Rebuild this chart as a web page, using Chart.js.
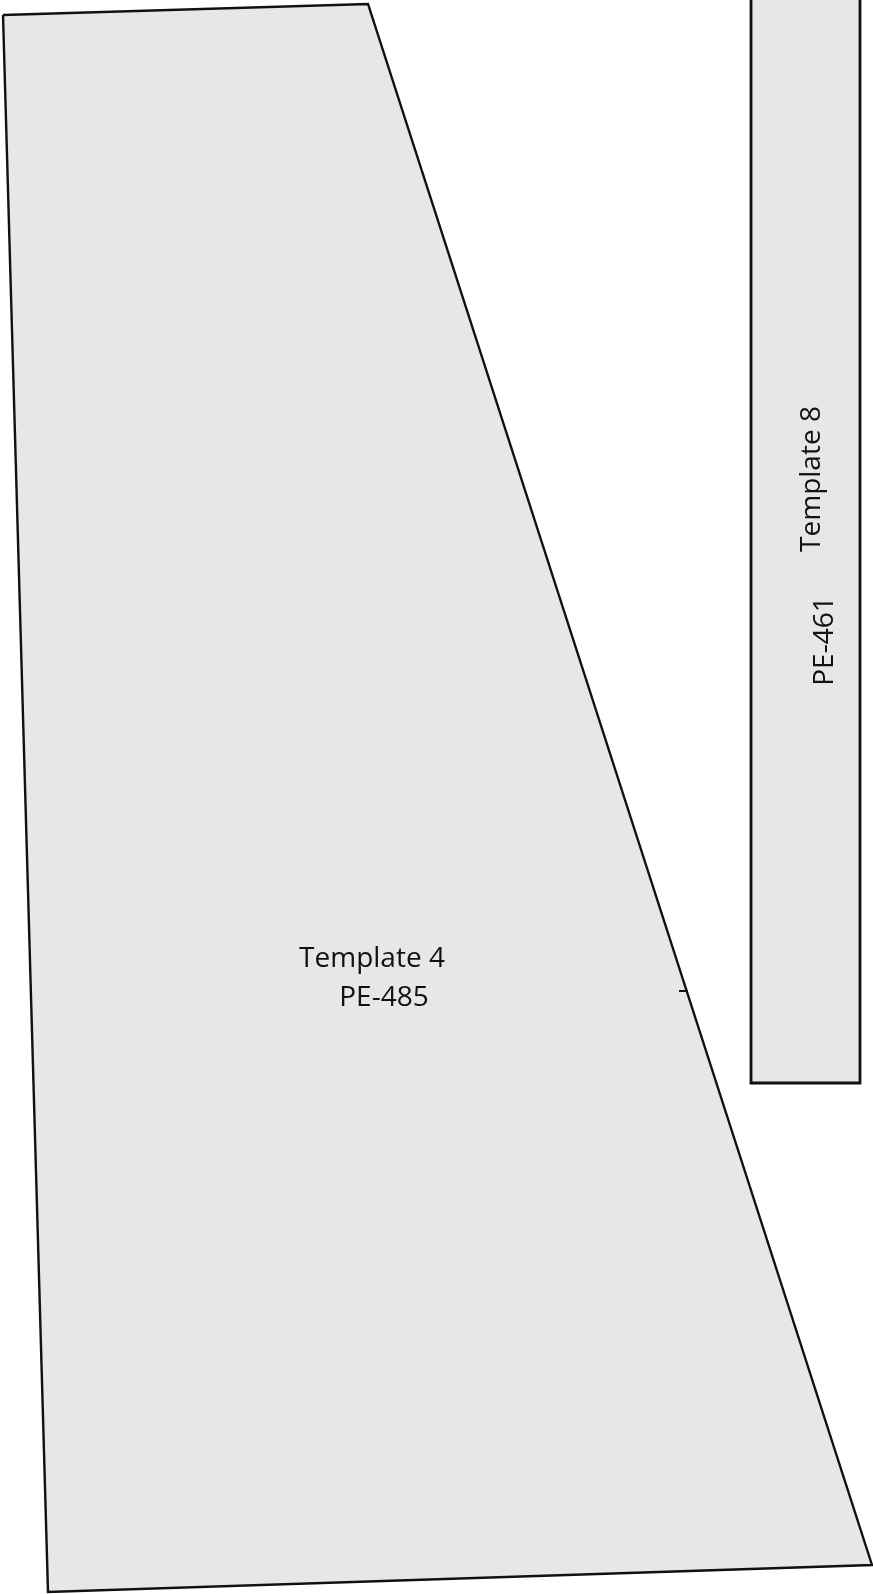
<!DOCTYPE html>
<html>
<head>
<meta charset="utf-8">
<script src="https://cdn.jsdelivr.net/npm/chart.js@4"></script>
<style>
  html, body { margin:0; padding:0; background:#fff; }
  #wrap { width:873px; height:1594px; }
</style>
</head>
<body>
<div id="wrap"><canvas id="c" width="873" height="1594"></canvas></div>
<script>
// outline of template 4 (drawing units, y grows downward)
const T4_X = [3, 368, 872, 48, 3];
const T4_Y = [15, 4, 1565, 1592, 15];
// template 8 strip, runs off the top edge
const T8_X = [751, 860, 860, 751, 751];
const T8_Y = [-20, -20, 1083, 1083, -20];
// small notch on the slanted edge
const NOTCH_X = [679, 688];
const NOTCH_Y = [991, 991];

const LABEL_TEXT = ['Template 4', 'PE-485', 'Template 8', 'PE-461'];
const LABEL_X = [372, 384, 820, 833];
const LABEL_Y = [967, 1006, 479, 641];
const LABEL_ROT = [0, 0, -90, -90];

const pts = (xs, ys) => xs.map((x, i) => ({ x: x, y: ys[i] }));

const labelPlugin = {
    id: 'labels',
    afterDatasetsDraw(chart) {
        const ctx = chart.ctx, sx = chart.scales.x, sy = chart.scales.y;
        ctx.save();
        ctx.fillStyle = '#111';
        ctx.font = "28px 'Open Sans', sans-serif";
        ctx.textAlign = 'center';
        ctx.textBaseline = 'alphabetic';
        LABEL_TEXT.forEach((t, i) => {
            ctx.save();
            ctx.translate(sx.getPixelForValue(LABEL_X[i]), sy.getPixelForValue(LABEL_Y[i]));
            ctx.rotate(LABEL_ROT[i] * Math.PI / 180);
            ctx.fillText(t, 0, 0);
            ctx.restore();
        });
        ctx.restore();
    }
};

const shapeDs = (xs, ys, w) => ({
    data: pts(xs, ys), showLine: true, fill: 'shape',
    backgroundColor: '#e6e7e8', borderColor: '#111', borderWidth: w,
    pointRadius: 0, tension: 0, borderJoinStyle: 'miter', clip: false
});

new Chart(document.getElementById('c').getContext('2d'), {
    type: 'scatter',
    data: {
        datasets: [
            shapeDs(T4_X, T4_Y, 2.4),
            shapeDs(T8_X, T8_Y, 2.8),
            { data: pts(NOTCH_X, NOTCH_Y), showLine: true, fill: false, borderColor: '#111', borderWidth: 2, pointRadius: 0, clip: false, order: -1 }
        ]
    },
    options: {
        responsive: false, animation: false,
        layout: { padding: 0 },
        plugins: { legend: { display: false }, tooltip: { enabled: false } },
        scales: {
            x: { type: 'linear', min: 0, max: 873, display: false },
            y: { type: 'linear', min: 0, max: 1594, reverse: true, display: false }
        }
    },
    plugins: [labelPlugin]
});
</script>
</body>
</html>
